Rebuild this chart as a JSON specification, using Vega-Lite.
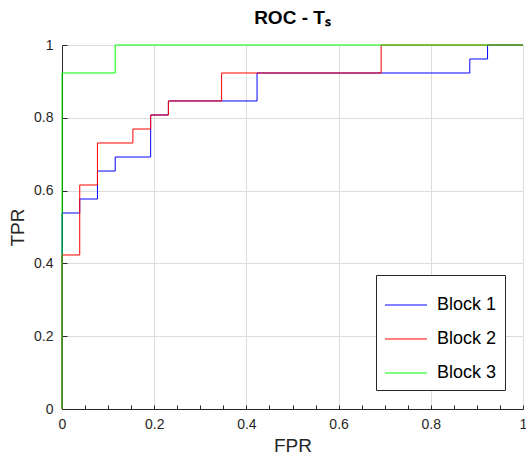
{
  "$schema": "https://vega.github.io/schema/vega-lite/v6.json",
  "autosize": {"type": "none"},
  "width": 461,
  "height": 364,
  "padding": {"left": 62, "top": 45, "right": 3, "bottom": 49},
  "background": "white",
  "title": {
    "text": "ROC - Tₛ",
    "fontSize": 19,
    "fontWeight": "bold",
    "font": "Liberation Sans",
    "color": "#000000",
    "offset": 10,
    "anchor": "middle"
  },
  "config": {
    "view": {"stroke": "#555555", "strokeWidth": 1},
    "axis": {
      "labelFont": "Liberation Sans",
      "titleFont": "Liberation Sans",
      "labelColor": "#262626",
      "titleColor": "#262626",
      "domainColor": "#262626",
      "tickColor": "#262626",
      "gridColor": "#dcdcdc",
      "labelFontSize": 14,
      "titleFontSize": 19,
      "titleFontWeight": "normal",
      "labelOverlap": false,
      "labelFlush": false
    },
    "legend": {
      "labelFont": "Liberation Sans"
    }
  },
  "data": {
    "values": [
      {"series": "Block 1", "ord": 0, "fpr": 0, "tpr": 0},
      {"series": "Block 1", "ord": 1, "fpr": 0, "tpr": 0.5385},
      {"series": "Block 1", "ord": 2, "fpr": 0.0385, "tpr": 0.5769},
      {"series": "Block 1", "ord": 3, "fpr": 0.0769, "tpr": 0.6538},
      {"series": "Block 1", "ord": 4, "fpr": 0.1154, "tpr": 0.6923},
      {"series": "Block 1", "ord": 5, "fpr": 0.1923, "tpr": 0.8077},
      {"series": "Block 1", "ord": 6, "fpr": 0.2308, "tpr": 0.8462},
      {"series": "Block 1", "ord": 7, "fpr": 0.4231, "tpr": 0.9231},
      {"series": "Block 1", "ord": 8, "fpr": 0.8846, "tpr": 0.9615},
      {"series": "Block 1", "ord": 9, "fpr": 0.9231, "tpr": 1},
      {"series": "Block 1", "ord": 10, "fpr": 1, "tpr": 1},
      {"series": "Block 2", "ord": 0, "fpr": 0, "tpr": 0},
      {"series": "Block 2", "ord": 1, "fpr": 0, "tpr": 0.4231},
      {"series": "Block 2", "ord": 2, "fpr": 0.0385, "tpr": 0.6154},
      {"series": "Block 2", "ord": 3, "fpr": 0.0769, "tpr": 0.7308},
      {"series": "Block 2", "ord": 4, "fpr": 0.1538, "tpr": 0.7692},
      {"series": "Block 2", "ord": 5, "fpr": 0.1923, "tpr": 0.8077},
      {"series": "Block 2", "ord": 6, "fpr": 0.2308, "tpr": 0.8462},
      {"series": "Block 2", "ord": 7, "fpr": 0.3462, "tpr": 0.9231},
      {"series": "Block 2", "ord": 8, "fpr": 0.6923, "tpr": 1},
      {"series": "Block 2", "ord": 9, "fpr": 1, "tpr": 1},
      {"series": "Block 3", "ord": 0, "fpr": 0, "tpr": 0},
      {"series": "Block 3", "ord": 1, "fpr": 0, "tpr": 0.9231},
      {"series": "Block 3", "ord": 2, "fpr": 0.1154, "tpr": 1},
      {"series": "Block 3", "ord": 3, "fpr": 1, "tpr": 1}
    ]
  },
  "mark": {"type": "line", "interpolate": "step-after", "strokeWidth": 1, "clip": false},
  "encoding": {
    "x": {
      "field": "fpr",
      "type": "quantitative",
      "scale": {"domain": [0, 1], "nice": false, "zero": false},
      "axis": {
        "title": "FPR",
        "values": [0, 0.05, 0.1, 0.15, 0.2, 0.25, 0.3, 0.35, 0.4, 0.45, 0.5, 0.55, 0.6, 0.65, 0.7, 0.75, 0.8, 0.85, 0.9, 0.95, 1],
        "labelExpr": "round(datum.value*100)%20==0 ? toString(round(datum.value*10)/10) : ''",
        "gridOpacity": {"condition": {"test": "round(datum.value*100)%20==0", "value": 1}, "value": 0},
        "tickSize": -4,
        "labelPadding": 12,
        "titlePadding": 5
      }
    },
    "y": {
      "field": "tpr",
      "type": "quantitative",
      "scale": {"domain": [0, 1], "nice": false, "zero": false},
      "axis": {
        "title": "TPR",
        "values": [0, 0.2, 0.4, 0.6, 0.8, 1],
        "labelExpr": "toString(round(datum.value*10)/10)",
        "tickSize": -5,
        "labelPadding": 14,
        "titlePadding": 6
      }
    },
    "color": {
      "field": "series",
      "type": "nominal",
      "scale": {"domain": ["Block 1", "Block 2", "Block 3"], "range": ["#0000ff", "#ff0000", "#00ff00"]},
      "legend": {
        "title": null,
        "orient": "none",
        "legendX": 314,
        "legendY": 230,
        "symbolType": "stroke",
        "symbolSize": 1764,
        "symbolStrokeWidth": 1.2,
        "labelFontSize": 18,
        "labelColor": "#000000",
        "fillColor": "#ffffff",
        "strokeColor": "#262626",
        "padding": 8,
        "rowPadding": 3,
        "labelOffset": 9
      }
    },
    "order": {"field": "ord", "type": "quantitative"}
  }
}
